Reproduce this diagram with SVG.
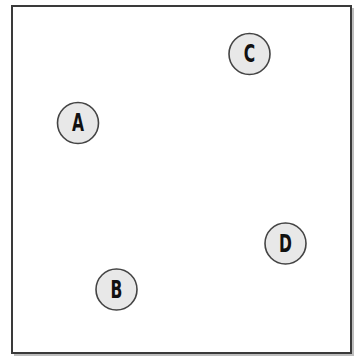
<svg xmlns="http://www.w3.org/2000/svg" width="355" height="356" viewBox="0 0 355 356">
<defs>
<style>
.frame{fill:#fff;stroke:#3a3a3a;stroke-width:2}
.shadow{fill:none;stroke:#bdbdbd;stroke-width:2}
.node circle{fill:#e8e8e8;stroke:#444;stroke-width:1.6}
.node text{font-family:"DejaVu Sans Condensed","DejaVu Sans",sans-serif;font-weight:bold;font-size:24px;fill:#111;text-anchor:middle;dominant-baseline:central}
</style>
</defs>
<rect width="355" height="356" fill="#fff"/>
<polyline class="shadow" points="353,8 353,355 14,355"/>
<rect class="frame" x="12" y="6" width="339" height="347"/>
<g id="connectors"></g>
<g id="node-A" class="node" transform="translate(78,123)"><circle r="20.5"/><text transform="scale(0.72,1)">A</text></g>
<g id="node-B" class="node" transform="translate(116.5,289.5)"><circle r="20.5"/><text transform="scale(0.72,1)">B</text></g>
<g id="node-C" class="node" transform="translate(249.5,54)"><circle r="20.5"/><text transform="scale(0.72,1)">C</text></g>
<g id="node-D" class="node" transform="translate(285.5,243.5)"><circle r="20.5"/><text transform="scale(0.72,1)">D</text></g>
</svg>
